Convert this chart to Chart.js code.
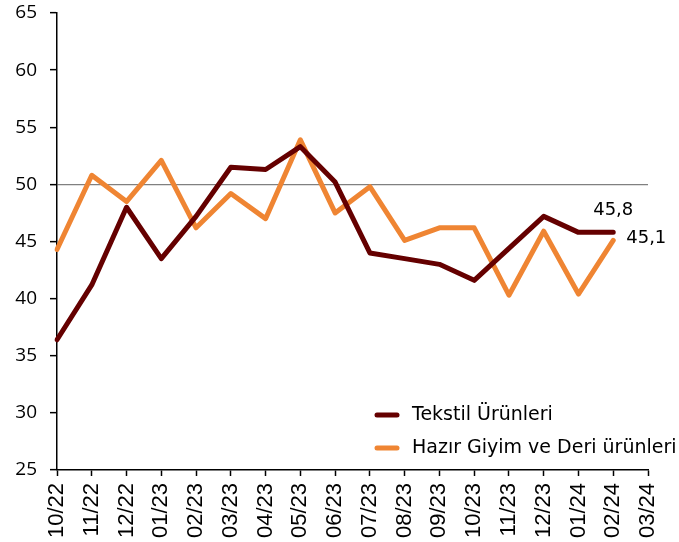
<!DOCTYPE html>
<html>
<head>
<meta charset="utf-8">
<script src="https://cdn.jsdelivr.net/npm/chart.js@4"></script>
<style>
    html, body { margin: 0; padding: 0; background: #fff; }
    #wrap { position: relative; width: 679px; height: 542px; }
</style>
</head>
<body>
<div id="wrap"><canvas id="chart" width="679" height="542"></canvas></div>
<script>
// aylar (x ekseni)
var labels = ["10/22","11/22","12/22","01/23","02/23","03/23","04/23","05/23","06/23",
              "07/23","08/23","09/23","10/23","11/23","12/23","01/24","02/24","03/24"];

// seriler
var tekstilLabel = "Tekstil Ürünleri";
var tekstil = [36.4, 41.2, 48.0, 43.5, 47.2, 51.5, 51.3, 53.3, 50.2,
               44.0, 43.5, 43.0, 41.6, 44.4, 47.2, 45.8, 45.8];

var hazirLabel = "Hazır Giyim ve Deri ürünleri";
var hazirGiyim = [44.3, 50.8, 48.5, 52.1, 46.2, 49.2, 47.0, 53.9, 47.5,
                  49.8, 45.1, 46.2, 46.2, 40.3, 45.9, 40.4, 45.1];

// y ekseni
var yMin = 25;
var yMax = 65;
var yStep = 5;
var esik = 50;

var koyuKirmizi = "#650000";
var turuncu = "#EF8533";

/**
 * son değerleri yaz
 */
var sonDegerPlugin = {
    id: "sonDeger",
    afterDatasetsDraw: function (chart) {
        var ctx = chart.ctx;
        ctx.save();
        ctx.fillStyle = "#000";
        ctx.font = "18px 'DejaVu Sans'";
        chart.data.datasets.forEach(function (ds, i) {
            var meta = chart.getDatasetMeta(i);
            var last = ds.data.length - 1;
            var pt = meta.data[last];
            var txt = ds.data[last].toFixed(1).replace(".", ",");
            if (i === 0) {
                ctx.textAlign = "center";
                ctx.textBaseline = "middle";
                ctx.fillText(txt, pt.x, pt.y - 22);
            } else {
                ctx.textAlign = "left";
                ctx.textBaseline = "middle";
                ctx.fillText(txt, pt.x + 13, pt.y - 2);
            }
        });
        ctx.restore();
    }
};

/**
 * grafik içindeki lejant (sağ alt)
 */
var lejantPlugin = {
    id: "lejant",
    afterDraw: function (chart) {
        var ctx = chart.ctx;
        ctx.save();
        ctx.font = "19px 'DejaVu Sans'";
        ctx.textAlign = "left";
        ctx.textBaseline = "middle";
        chart.data.datasets.forEach(function (ds, i) {
            var y = 415 + i * 33;
            ctx.strokeStyle = ds.borderColor;
            ctx.lineWidth = 5;
            ctx.lineCap = "round";
            ctx.beginPath();
            ctx.moveTo(377, y);
            ctx.lineTo(397, y);
            ctx.stroke();
            ctx.fillStyle = "#000";
            ctx.fillText(ds.label, 412, y);
        });
        ctx.restore();
    }
};

var ctx = document.getElementById("chart").getContext("2d");

var chart = new Chart(ctx, {
    type: "line",
    data: {
        labels: labels,
        datasets: [{
            label: tekstilLabel,
            data: tekstil,
            borderColor: koyuKirmizi,
            backgroundColor: koyuKirmizi,
            borderWidth: 5,
            borderCapStyle: "round",
            borderJoinStyle: "round",
            pointRadius: 0,
            tension: 0,
            fill: false
        }, {
            label: hazirLabel,
            data: hazirGiyim,
            borderColor: turuncu,
            backgroundColor: turuncu,
            borderWidth: 5,
            borderCapStyle: "round",
            borderJoinStyle: "round",
            pointRadius: 0,
            tension: 0,
            fill: false
        }]
    },
    options: {
        responsive: false,
        devicePixelRatio: 1,
        animation: false,
        layout: { padding: { top: 13, right: 31, left: 0, bottom: 0 } },
        plugins: {
            legend: { display: false },
            tooltip: { enabled: false }
        },
        scales: {
            x: {
                offset: false,
                grid: {
                    drawOnChartArea: false,
                    drawTicks: true,
                    tickLength: 6,
                    tickColor: "#000",
                    tickWidth: 1.5
                },
                border: { color: "#000", width: 1.5 },
                ticks: {
                    autoSkip: false,
                    minRotation: 90,
                    maxRotation: 90,
                    padding: 7,
                    color: "#000",
                    font: { family: "'Liberation Sans'", size: 22 }
                },
                afterFit: function (scale) {
                    scale.height = 72;
                    scale.paddingLeft = 0;
                    scale.paddingRight = 0;
                }
            },
            y: {
                min: yMin,
                max: yMax,
                grid: {
                    color: function (c) {
                        return c.tick && c.tick.value === esik ? "#808080" : "rgba(0,0,0,0)";
                    },
                    lineWidth: 1.3,
                    drawTicks: true,
                    tickLength: 7,
                    tickColor: "#000",
                    tickWidth: 1.5
                },
                border: { color: "#000", width: 1.5 },
                ticks: {
                    stepSize: yStep,
                    padding: 13,
                    color: "#000",
                    font: { family: "'Open Sans'", size: 19 }
                },
                afterFit: function (scale) {
                    scale.width = 57;
                    scale.paddingTop = 0;
                    scale.paddingBottom = 0;
                }
            }
        }
    },
    plugins: [sonDegerPlugin, lejantPlugin]
});
</script>
</body>
</html>
